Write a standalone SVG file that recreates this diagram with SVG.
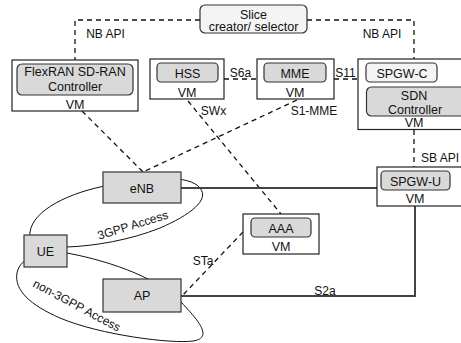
<svg xmlns="http://www.w3.org/2000/svg" width="461" height="343" viewBox="0 0 461 343">
<style>
text{font-family:"Liberation Sans",Arial,sans-serif;font-size:12.5px;fill:#111;text-anchor:middle}
.lbl{font-size:12px}
.vm{fill:#fff;stroke:#222;stroke-width:1.2}
.in{fill:#d9d9d9;stroke:#333;stroke-width:1.2}
.lt{fill:#f4f4f4;stroke:#333;stroke-width:1.2}
.box{fill:#d9d9d9;stroke:#333;stroke-width:1.2}
.dash{fill:none;stroke:#111;stroke-width:1.3;stroke-dasharray:5,4}
.solid{fill:none;stroke:#444;stroke-width:2}
.ell{fill:none;stroke:#111;stroke-width:1}
</style>
<g id="access-areas">
<path class="ell" d="M67,247 C40,250 28,245 30,232 C33,210 70,192 110,185 C150,176 190,175 200,188 C210,200 190,215 160,228 C130,240 95,246 67,247 Z"/>
<path class="ell" d="M67,253 C115,262 160,280 181,302 C198,320 214,338 193,341 C172,344 100,335 60,318 C30,305 14,290 17,273 C20,256 45,250 67,253 Z"/>
<text class="lbl" transform="translate(134,229) rotate(-17)">3GPP Access</text>
<text class="lbl" transform="translate(75,309) rotate(28)">non-3GPP Access</text>
</g>
<g id="connectors">
<path class="dash" d="M200,20 H75 V60"/>
<path class="dash" d="M307,20 H414 V59"/>
<path class="dash" d="M224,79 H257"/>
<path class="dash" d="M334,79 H358"/>
<path class="dash" d="M414,130 V167"/>
<path class="dash" d="M188,101 L281,214"/>
<path class="dash" d="M297,100 L143,172"/>
<path class="dash" d="M82,111 L143,172"/>
<path class="dash" d="M243,232 L182,296"/>
<path class="solid" d="M181,188 H377"/>
<path class="solid" d="M181,296 H415 V206"/>
<text class="lbl" x="105.5" y="38">NB API</text>
<text class="lbl" x="382" y="38">NB API</text>
<text class="lbl" x="240.5" y="76.5">S6a</text>
<text class="lbl" x="345.5" y="76.5">S11</text>
<text class="lbl" x="213.5" y="115">SWx</text>
<text class="lbl" x="314" y="115">S1-MME</text>
<text class="lbl" x="440" y="161.5">SB API</text>
<text class="lbl" x="325" y="294.5">S2a</text>
<text class="lbl" x="203" y="265">STa</text>
</g>
<g id="slice">
<rect class="lt" x="200" y="5" width="107" height="28" rx="5"/>
<text x="253.5" y="18.5">Slice</text>
<text x="253.5" y="31">creator/ selector</text>
</g>
<g id="flexran">
<rect class="vm" x="12" y="60" width="126" height="51"/>
<rect class="in" x="17" y="64" width="116" height="31" rx="5"/>
<text x="75" y="76">FlexRAN SD-RAN</text>
<text x="75" y="91">Controller</text>
<text x="75" y="109">VM</text>
</g>
<g id="hss">
<rect class="vm" x="150" y="59" width="74" height="40"/>
<rect class="in" x="157" y="63" width="61" height="19" rx="4"/>
<text x="187.5" y="77.5">HSS</text>
<text x="187" y="96.5">VM</text>
</g>
<g id="mme">
<rect class="vm" x="257" y="59" width="77" height="40"/>
<rect class="in" x="264" y="63" width="62" height="19" rx="4"/>
<text x="295" y="77.5">MME</text>
<text x="295" y="96.5">VM</text>
</g>
<g id="spgw-c">
<rect class="vm" x="358" y="59" width="110" height="70.5"/>
<rect class="lt" x="366" y="63" width="71" height="19" rx="4"/>
<text x="402" y="77.5">SPGW-C</text>
<rect class="in" x="366.5" y="87" width="100" height="29" rx="5"/>
<text x="414" y="100">SDN</text>
<text x="415" y="113.5">Controller</text>
<text x="414" y="127">VM</text>
</g>
<g id="spgw-u">
<rect class="vm" x="377" y="167" width="85" height="39"/>
<rect class="in" x="381" y="171" width="69" height="19" rx="4"/>
<text x="415.5" y="185.5">SPGW-U</text>
<text x="415" y="203">VM</text>
</g>
<g id="aaa">
<rect class="vm" x="243" y="214" width="76" height="40"/>
<rect class="in" x="251" y="218" width="60" height="19" rx="4"/>
<text x="281" y="232.5">AAA</text>
<text x="281" y="251">VM</text>
</g>
<g id="enb">
<rect class="box" x="103" y="172" width="78" height="31"/>
<text x="142" y="192.5">eNB</text>
</g>
<g id="ue">
<rect class="box" x="24" y="235" width="43" height="32"/>
<text x="45.5" y="255.5">UE</text>
</g>
<g id="ap">
<rect class="box" x="103" y="279" width="78" height="33"/>
<text x="142" y="300">AP</text>
</g>
</svg>
